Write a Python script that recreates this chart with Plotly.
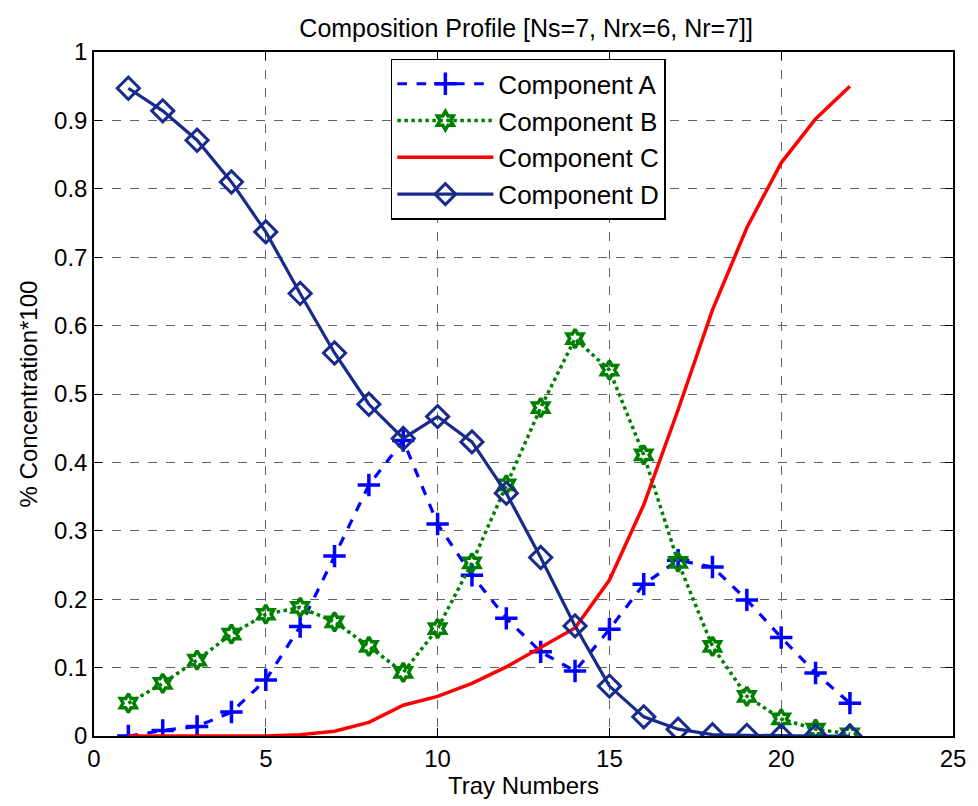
import plotly.graph_objects as go

# Tray numbers along the column
trays = list(range(1, 23))

# Mole-fraction profiles per component
comp_a = [0.000, 0.008, 0.014, 0.035, 0.082, 0.160, 0.263, 0.367, 0.432, 0.310, 0.235,
          0.172, 0.123, 0.095, 0.156, 0.222, 0.257, 0.247, 0.199, 0.144, 0.092, 0.048]
comp_b = [0.048, 0.077, 0.111, 0.149, 0.178, 0.188, 0.167, 0.131, 0.093, 0.157, 0.253,
          0.367, 0.480, 0.581, 0.535, 0.411, 0.254, 0.131, 0.058, 0.025, 0.010, 0.003]
comp_c = [0.000, 0.000, 0.000, 0.000, 0.000, 0.002, 0.007, 0.020, 0.045, 0.058, 0.077,
          0.101, 0.129, 0.158, 0.228, 0.338, 0.477, 0.623, 0.743, 0.838, 0.902, 0.950]
comp_d = [0.947, 0.914, 0.871, 0.810, 0.737, 0.647, 0.560, 0.485, 0.435, 0.467, 0.430,
          0.355, 0.261, 0.161, 0.073, 0.028, 0.010, 0.002, 0.001, 0.000, 0.000, 0.000]

x_ticks = [0, 5, 10, 15, 20, 25]
y_ticks = [0, 0.1, 0.2, 0.3, 0.4, 0.5, 0.6, 0.7, 0.8, 0.9, 1]

FONT = "Liberation Sans, Arial, Helvetica, sans-serif"
NAVY = "rgb(24,42,140)"
FS = 24

fig = go.Figure()
fig.add_trace(go.Scatter(
    x=trays, y=comp_a, name="Component A", mode="lines+markers",
    line=dict(color="rgb(0,0,255)", width=3.2, dash="dash"),
    marker=dict(symbol="cross-thin", size=16, color="rgb(0,0,255)",
                line=dict(color="rgb(0,0,255)", width=3.5)),
))
fig.add_trace(go.Scatter(
    x=trays, y=comp_b, name="Component B", mode="lines+markers",
    line=dict(color="rgb(0,128,0)", width=3.5, dash="dot"),
    marker=dict(symbol="hexagram-open", size=14, color="rgb(0,128,0)",
                line=dict(color="rgb(0,128,0)", width=3.5)),
))
fig.add_trace(go.Scatter(
    x=trays, y=comp_c, name="Component C", mode="lines",
    line=dict(color="rgb(255,0,0)", width=3.5),
))
fig.add_trace(go.Scatter(
    x=trays, y=comp_d, name="Component D", mode="lines+markers",
    line=dict(color=NAVY, width=3.2),
    marker=dict(symbol="diamond-open", size=17, color=NAVY,
                line=dict(color=NAVY, width=3)),
))

axis_common = dict(
    showline=True, linecolor="black", linewidth=1.5, mirror="ticks",
    ticks="inside", ticklen=8, tickcolor="black", tickwidth=1,
    showgrid=True, gridcolor="rgb(100,100,100)", gridwidth=1, griddash="dash",
    zeroline=False, tickfont=dict(family=FONT, size=FS, color="black"),
)

fig.update_xaxes(range=[0, 25], tickvals=x_ticks, ticktext=[str(v) for v in x_ticks],
                 title=dict(text="Tray Numbers", font=dict(family=FONT, size=FS, color="black"),
                            standoff=4),
                 **axis_common)
fig.update_yaxes(range=[0, 1], tickvals=y_ticks, ticktext=[f"{v:g}" for v in y_ticks],
                 title=dict(text="% Concentration*100", font=dict(family=FONT, size=FS, color="black"),
                            standoff=10),
                 **axis_common)

fig.update_layout(
    width=978, height=806,
    margin=dict(l=94, r=16, t=52, b=70),
    paper_bgcolor="white", plot_bgcolor="white",
    title=dict(text="Composition Profile [Ns=7, Nrx=6, Nr=7]]", x=0.538, xanchor="center",
               y=1 - 28 / 806, yanchor="middle",
               font=dict(family=FONT, size=25, color="black")),
    legend=dict(x=0.3456, y=0.99, xanchor="left", yanchor="top",
                bgcolor="white", bordercolor="black", borderwidth=1.5,
                font=dict(family=FONT, size=26, color="black"),
                itemwidth=96, tracegroupgap=0),
    showlegend=True,
)

fig.write_html("out.html")
